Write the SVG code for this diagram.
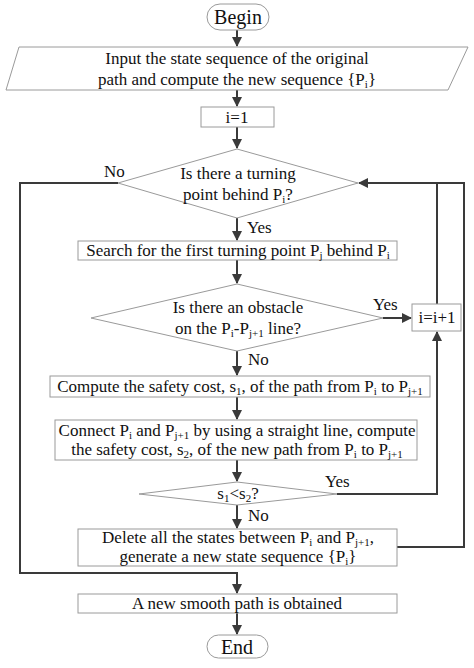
<svg xmlns="http://www.w3.org/2000/svg" width="474" height="668" viewBox="0 0 474 668">
<style>
.box{fill:#fff;stroke:#9a9a9a;stroke-width:1}
.t{font-family:"Liberation Serif","Times New Roman",serif;font-size:17px;fill:#111;text-anchor:middle}
.l{font-family:"Liberation Serif","Times New Roman",serif;font-size:17px;fill:#111}
.big{font-size:20px}
.sub{font-size:11px}
.c{fill:none;stroke:#3a3a3a;stroke-width:2}
</style>
<defs>
<marker id="ah" markerWidth="10" markerHeight="10" refX="9" refY="5" orient="auto" markerUnits="userSpaceOnUse">
<path d="M0,0 L10,5 L0,10 z" fill="#3a3a3a"/>
</marker>
</defs>
<rect width="474" height="668" fill="#fff"/>
<g id="connectors">
<line class="c" x1="237" y1="30" x2="237" y2="46" marker-end="url(#ah)"/>
<line class="c" x1="237" y1="90" x2="237" y2="106" marker-end="url(#ah)"/>
<line class="c" x1="237" y1="127" x2="237" y2="148" marker-end="url(#ah)"/>
<line class="c" x1="237" y1="218" x2="237" y2="240" marker-end="url(#ah)"/>
<line class="c" x1="237" y1="260" x2="237" y2="283" marker-end="url(#ah)"/>
<line class="c" x1="237" y1="351" x2="237" y2="375" marker-end="url(#ah)"/>
<line class="c" x1="237" y1="397" x2="237" y2="419" marker-end="url(#ah)"/>
<line class="c" x1="237" y1="460" x2="237" y2="481" marker-end="url(#ah)"/>
<line class="c" x1="237" y1="505" x2="237" y2="528" marker-end="url(#ah)"/>
<line class="c" x1="237" y1="613" x2="237" y2="634" marker-end="url(#ah)"/>
<polyline class="c" points="118,183 20,183 20,573 237,573 237,593" marker-end="url(#ah)"/>
<polyline class="c" points="397,547 464,547 464,183 359,183" marker-end="url(#ah)"/>
<line class="c" x1="437" y1="183" x2="437" y2="304"/>
<line class="c" x1="383" y1="318" x2="411" y2="318" marker-end="url(#ah)"/>
<polyline class="c" points="337,494 437,494 437,332" marker-end="url(#ah)"/>
</g>
<g id="begin">
<rect class="box" x="207" y="4" width="62" height="26" rx="13"/>
<text class="t big" x="238" y="24">Begin</text>
</g>
<g id="input">
<polygon class="box" points="19,47 468,47 448,90 6,90"/>
<text class="t" x="237" y="64">Input the state sequence of the original</text>
<text class="t" x="237" y="85">path and compute the new sequence {P<tspan class="sub" dy="3">i</tspan><tspan dy="-3">}</tspan></text>
</g>
<g id="init">
<rect class="box" x="201" y="107" width="73" height="20"/>
<text class="t" x="237" y="123">i=1</text>
</g>
<g id="dec1">
<polygon class="box" points="237,149 358,183 237,218 118,183"/>
<text class="t" x="238" y="179">Is there a turning</text>
<text class="t" x="238" y="200">point behind P<tspan class="sub" dy="3">i</tspan><tspan dy="-3">?</tspan></text>
<text class="l" x="104" y="177">No</text>
<text class="l" x="247" y="233">Yes</text>
</g>
<g id="search">
<rect class="box" x="78" y="241" width="319" height="19"/>
<text class="t" x="238" y="256">Search for the first turning point P<tspan class="sub" dy="3">j</tspan><tspan dy="-3"> behind P</tspan><tspan class="sub" dy="3">i</tspan></text>
</g>
<g id="dec2">
<polygon class="box" points="237,284 383,318 237,351 91,318"/>
<text class="t" x="238" y="313">Is there an obstacle</text>
<text class="t" x="238" y="334">on the P<tspan class="sub" dy="3">i</tspan><tspan dy="-3">-P</tspan><tspan class="sub" dy="3">j+1</tspan><tspan dy="-3"> line?</tspan></text>
<text class="l" x="373" y="310">Yes</text>
<text class="l" x="248" y="365">No</text>
</g>
<g id="inc">
<rect class="box" x="412" y="304" width="49" height="27"/>
<text class="t" x="437" y="323">i=i+1</text>
</g>
<g id="compute">
<rect class="box" x="50" y="376" width="380" height="21"/>
<text class="t" x="240" y="392">Compute the safety cost, s<tspan class="sub" dy="3">1</tspan><tspan dy="-3">, of the path from P</tspan><tspan class="sub" dy="3">i</tspan><tspan dy="-3"> to P</tspan><tspan class="sub" dy="3">j+1</tspan></text>
</g>
<g id="connect">
<rect class="box" x="55" y="420" width="362" height="40"/>
<text class="t" x="237" y="436">Connect P<tspan class="sub" dy="3">i</tspan><tspan dy="-3"> and P</tspan><tspan class="sub" dy="3">j+1</tspan><tspan dy="-3"> by using a straight line, compute</tspan></text>
<text class="t" x="237" y="455">the safety cost, s<tspan class="sub" dy="3">2</tspan><tspan dy="-3">, of the new path from P</tspan><tspan class="sub" dy="3">i</tspan><tspan dy="-3"> to P</tspan><tspan class="sub" dy="3">j+1</tspan></text>
</g>
<g id="dec3">
<polygon class="box" points="237,482 337,494 237,505 139,494"/>
<text class="t" x="238" y="499">s<tspan class="sub" dy="3">1</tspan><tspan dy="-3">&lt;s</tspan><tspan class="sub" dy="3">2</tspan><tspan dy="-3">?</tspan></text>
<text class="l" x="325" y="487">Yes</text>
<text class="l" x="248" y="521">No</text>
</g>
<g id="delete">
<rect class="box" x="78" y="529" width="319" height="37"/>
<text class="t" x="238" y="543">Delete all the states between P<tspan class="sub" dy="3">i</tspan><tspan dy="-3"> and P</tspan><tspan class="sub" dy="3">j+1</tspan><tspan dy="-3">,</tspan></text>
<text class="t" x="238" y="562">generate a new state sequence {P<tspan class="sub" dy="3">i</tspan><tspan dy="-3">}</tspan></text>
</g>
<g id="result">
<rect class="box" x="78" y="594" width="319" height="19"/>
<text class="t" x="237" y="609">A new smooth path is obtained</text>
</g>
<g id="end">
<rect class="box" x="207" y="635" width="61" height="23" rx="11.5"/>
<text class="t big" x="237" y="654">End</text>
</g>
</svg>
